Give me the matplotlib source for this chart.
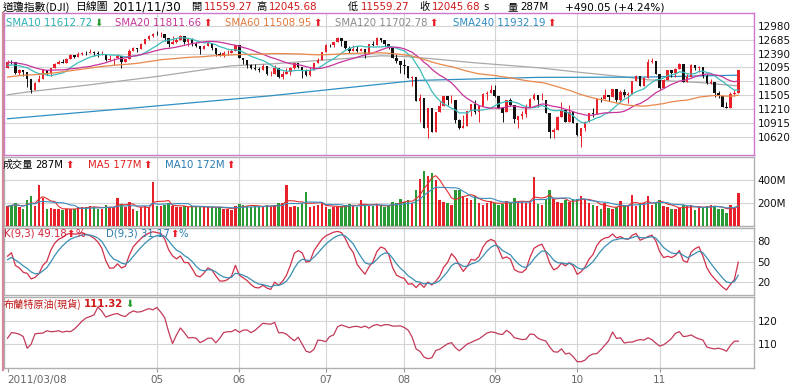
import numpy as np
import pandas as pd
import matplotlib
matplotlib.use("Agg")
import matplotlib.pyplot as plt
from matplotlib.lines import Line2D

W, H = 800, 387
CJK = ['Noto Sans CJK TC', 'DejaVu Sans']
LAT = ['DejaVu Sans', 'Noto Sans CJK TC']
plt.rcParams['font.family'] = LAT

# ------------------------------------------------------------------
# Data: DJI daily, 2011/03/08 - 2011/11/30
# ------------------------------------------------------------------
# closes before 03/08 (only used for the moving averages)
prev_close = [
    11372, 11370, 11410, 11428, 11476, 11457, 11499, 11491, 11478, 11533,
    11559, 11573, 11555, 11575, 11585, 11569, 11578,
    11671, 11691, 11722, 11697, 11675, 11637, 11672, 11755, 11732, 11787,
    11837, 11825, 11823, 11871, 11980, 11978, 12019, 12023, 11823, 11891,
    12040, 12041, 12062, 12092, 12161, 12233, 12239, 12229, 12273, 12268,
    12226, 12288, 12318, 12391, 12212, 12106, 12068, 12130, 12226,
    12058, 12066, 12258, 12170, 12090,
]

opens = [
    # Mar
    12090, 12214, 12211, 11985, 12042, 11990, 11852, 11615, 11777, 11860,
    12034, 11957, 12088, 12171, 12220, 12197, 12281, 12350,
    # Apr
    12320, 12377, 12398, 12394, 12424, 12409, 12380, 12380, 12264, 12269,
    12286, 12340, 12202, 12268, 12453, 12505, 12479, 12595, 12690, 12763,
    # May
    12810, 12807, 12804, 12723, 12584, 12638, 12684, 12760, 12629, 12695,
    12595, 12547, 12478, 12560, 12604, 12511, 12381, 12355, 12394, 12402, 12442,
    # Jun
    12569, 12290, 12246, 12150, 12090, 12070, 12049, 12124, 11952, 11953,
    12076, 11897, 11962, 12004, 12081, 12190, 12109, 12050, 11934, 12043,
    12188, 12262,
    # Jul
    12414, 12580, 12569, 12626, 12718, 12655, 12505, 12447, 12492, 12437,
    12479, 12385, 12587, 12572, 12723, 12680, 12592, 12500, 12302, 12239,
    # Aug
    12144, 12130, 11866, 11894, 11384, 11441, 10810, 11237, 10719, 11143,
    11269, 11480, 11405, 11408, 10985, 10818, 10855, 11176, 11319, 11149,
    11285, 11537, 11560,
    # Sep
    11613, 11492, 11240, 11140, 11414, 11294, 10990, 11061, 11104, 11247,
    11433, 11508, 11401, 11407, 11124, 10733, 10771, 11045, 11190, 10939, 11153,
    # Oct
    10912, 10650, 10802, 10936, 11123, 11104, 11431, 11416, 11518, 11478,
    11644, 11397, 11577, 11504, 11542, 11808, 11911, 11706, 11870, 12208, 12223,
    # Nov
    11955, 11659, 11836, 12042, 11983, 12068, 12166, 11781, 11894, 12152,
    12078, 12095, 11905, 11770, 11795, 11548, 11492, 11256, 11232, 11524, 11559.27,
]

highs = [
    12259, 12250, 12212, 12070, 12043, 11990, 11860, 11790, 11933, 12056,
    12040, 12092, 12188, 12262, 12266, 12290, 12384, 12355,
    12420, 12419, 12450, 12477, 12445, 12450, 12450, 12380, 12350, 12300,
    12390, 12342, 12283, 12488, 12520, 12505, 12620, 12700, 12780, 12830,
    12876, 12840, 12815, 12730, 12760, 12720, 12775, 12760, 12710, 12710,
    12640, 12547, 12580, 12650, 12604, 12511, 12425, 12440, 12460, 12480, 12580,
    12570, 12300, 12246, 12175, 12160, 12095, 12160, 12124, 12020, 12140,
    12076, 12010, 12080, 12100, 12200, 12190, 12109, 12060, 12100, 12200,
    12300, 12420,
    12600, 12600, 12640, 12750, 12718, 12655, 12560, 12580, 12550, 12500,
    12479, 12590, 12650, 12750, 12724, 12680, 12592, 12500, 12380, 12240,
    12285, 12130, 11905, 11894, 11530, 11441, 11240, 11237, 11150, 11376,
    11485, 11480, 11510, 11408, 11000, 11080, 11177, 11327, 11410, 11285,
    11550, 11600, 11717,
    11717, 11492, 11240, 11415, 11455, 11294, 11070, 11170, 11322, 11440,
    11545, 11508, 11560, 11409, 11124, 10810, 11060, 11355, 11190, 11290, 11153,
    10912, 10812, 10958, 11130, 11232, 11433, 11460, 11628, 11520, 11644,
    11644, 11620, 11640, 11580, 11809, 11935, 11911, 11900, 12284, 12301, 12223,
    11955, 11840, 12050, 12044, 12080, 12190, 12166, 11950, 12177, 12152,
    12124, 12095, 11950, 11850, 11795, 11600, 11492, 11370, 11580, 11620, 12045.68,
]

lows = [
    12090, 12170, 11965, 11935, 11920, 11687, 11555, 11615, 11777, 11860,
    11945, 11920, 12082, 12170, 12195, 12180, 12280, 12300,
    12320, 12363, 12350, 12394, 12340, 12325, 12350, 12225, 12240, 12150,
    12286, 12093, 12202, 12268, 12453, 12420, 12479, 12591, 12680, 12750,
    12780, 12750, 12665, 12529, 12584, 12620, 12684, 12591, 12560, 12560,
    12520, 12390, 12478, 12550, 12470, 12331, 12340, 12310, 12355, 12402, 12442,
    12286, 12170, 12080, 12070, 12050, 11990, 12040, 11930, 11920, 11953,
    11875, 11860, 11962, 11940, 12070, 12085, 11875, 11920, 11920, 12040,
    12180, 12262,
    12414, 12530, 12530, 12626, 12560, 12480, 12400, 12447, 12420, 12437,
    12304, 12385, 12560, 12572, 12640, 12560, 12490, 12290, 12200, 11980,
    11967, 11864, 11700, 11384, 10930, 10810, 10604, 10720, 10719, 11143,
    11269, 11308, 11340, 10914, 10800, 10817, 10855, 11060, 11110, 10930,
    11285, 11407, 11560,
    11470, 11240, 10932, 11140, 11270, 10926, 10810, 11000, 11050, 11247,
    11400, 11260, 11395, 11120, 10597, 10600, 10771, 11045, 10935, 10939, 10910,
    10650, 10404, 10739, 10936, 11040, 11104, 11360, 11416, 11390, 11478,
    11360, 11344, 11470, 11350, 11542, 11808, 11700, 11706, 11870, 12200, 11950,
    11637, 11659, 11836, 11892, 11900, 12068, 11780, 11781, 11894, 12040,
    11990, 11870, 11741, 11748, 11470, 11450, 11250, 11231, 11232, 11484, 11559.27,
]

closes = [
    12214, 12213, 11985, 12044, 11993, 11855, 11613, 11775, 11858, 12036,
    11959, 12086, 12170, 12221, 12198, 12280, 12350, 12320,
    12377, 12400, 12394, 12426, 12409, 12380, 12381, 12263, 12270, 12285,
    12342, 12202, 12266, 12453, 12506, 12479, 12595, 12690, 12763, 12811,
    12808, 12807, 12724, 12584, 12638, 12685, 12761, 12630, 12696, 12596,
    12548, 12480, 12560, 12606, 12512, 12381, 12356, 12395, 12403, 12441, 12570,
    12290, 12248, 12151, 12090, 12071, 12049, 12124, 11952, 11953, 12076,
    11897, 11962, 12004, 12081, 12191, 12110, 12050, 11934, 12043, 12188,
    12262, 12414,
    12582, 12570, 12626, 12719, 12657, 12505, 12447, 12492, 12437, 12480,
    12385, 12587, 12572, 12724, 12681, 12592, 12501, 12302, 12240, 12143,
    12132, 11866, 11896, 11384, 11445, 10810, 11240, 10720, 11144, 11270,
    11483, 11406, 11411, 10991, 10818, 10855, 11177, 11321, 11150, 11285,
    11540, 11560, 11614,
    11494, 11240, 11139, 11415, 11296, 10993, 11062, 11106, 11247, 11433,
    11510, 11402, 11409, 11125, 10734, 10772, 11044, 11191, 10938, 11154, 10913,
    10655, 10809, 10940, 11124, 11103, 11433, 11417, 11519, 11478, 11644,
    11397, 11577, 11505, 11541, 11809, 11913, 11706, 11869, 12209, 12231, 11955,
    11658, 11836, 12044, 11983, 12069, 12170, 11781, 11894, 12153, 12079,
    12096, 11906, 11771, 11796, 11548, 11494, 11258, 11231, 11523, 11556, 12045.68,
]

# volume, millions
volume = [
    170, 185, 195, 160, 150, 228, 262, 175, 356, 242, 150, 157, 150, 145, 140, 150, 145, 150,
    165, 160, 165, 170, 165, 150, 145, 180, 165, 160, 242, 185, 160, 210, 150, 130, 160, 175, 165, 380,
    175, 170, 180, 195, 170, 160, 165, 175, 160, 170, 165, 165, 160, 165, 160, 155, 165, 150, 145, 140, 175,
    190, 180, 175, 165, 170, 175, 160, 185, 160, 180, 195, 200, 350, 165, 170, 160, 195, 290, 165, 175, 180, 200,
    165, 150, 160, 170, 175, 185, 190, 170, 165, 228, 180, 170, 175, 190, 170, 165, 175, 210, 200, 237,
    210, 220, 200, 308, 405, 476, 433, 461, 393, 228, 205, 200, 185, 313, 313, 256, 242, 228, 256, 200, 185, 195, 215,
    200, 185, 190, 215, 200, 240, 210, 205, 200, 210, 422, 190, 185, 235, 313, 236, 210, 200, 220, 205, 230,
    230, 260, 225, 200, 185, 175, 143, 200, 157, 143, 166, 214, 177, 177, 271, 171, 177, 200, 256, 177, 200,
    228, 171, 166, 143, 143, 157, 185, 171, 177, 134, 166, 165, 175, 180, 170, 145, 145, 108, 185, 157, 287,
]

# Brent crude spot
brent = [
    112.6, 115.0, 114.8, 114.3, 113.3, 108.3, 110.0, 114.5, 114.7, 114.8,
    115.8, 115.4, 115.5, 115.8, 115.2, 115.6, 115.4, 116.5,
    118.2, 120.0, 121.3, 121.9, 122.6, 126.0, 124.2, 121.7, 122.3, 122.9,
    123.2, 122.3, 121.9, 123.4, 124.3, 123.8, 124.0, 124.7, 125.3, 124.8,
    125.8, 123.8, 121.4, 115.4, 110.3, 114.0, 117.0, 115.0, 112.7, 112.9,
    112.6, 110.7, 111.5, 112.6, 112.6, 110.6, 112.5, 115.0, 115.4, 115.4, 116.3,
    115.1, 116.1, 116.1, 115.0, 116.0, 117.5, 119.0, 118.8, 118.6, 119.4,
    114.9, 115.0, 114.3, 112.8, 111.5, 113.0, 110.0, 107.0, 106.5, 107.8,
    111.8, 111.6,
    111.1, 113.3, 114.0, 117.5, 118.3, 117.7, 117.1, 117.6, 117.7, 117.2,
    117.8, 116.9, 118.0, 118.5, 117.9, 118.4, 118.4, 117.8, 117.8, 117.9,
    117.2, 116.0, 113.0, 108.0, 106.9, 104.5, 103.8, 104.2, 107.3, 107.9,
    109.0, 110.2, 110.7, 108.5, 107.2, 108.6, 110.1, 110.8, 111.6, 112.3,
    113.5, 114.8, 115.3,
    115.1, 114.4, 114.2, 116.0, 114.8, 112.8, 112.4, 112.0, 112.2, 114.4,
    114.2, 112.6, 111.9, 111.4, 108.8, 106.8, 106.6, 108.0, 105.8, 106.2, 104.6,
    102.5, 102.5, 103.2, 105.0, 105.8, 106.0, 107.6, 109.5, 111.5, 115.3,
    112.5, 112.8, 110.5, 110.9, 110.9, 111.6, 112.0, 111.8, 112.8, 112.0, 110.5,
    109.2, 109.8, 111.0, 112.5, 114.7, 115.4, 113.3, 113.5, 114.0, 113.0,
    112.3, 111.8, 108.8, 108.3, 108.0, 108.3, 107.8, 107.0, 109.5, 111.3, 111.32,
]

# long averages (trading-day index, value)
sma120_day = [0, 6, 21, 38, 57, 67, 84, 95, 101, 109, 118, 135, 146, 156, 163, 176, 186]
sma120_val = [11516, 11586, 11728, 11904, 12131, 12170, 12273, 12343, 12328, 12273,
              12201, 12090, 11989, 11904, 11834, 11777, 11703]
sma240_day = [0, 34, 67, 104, 135, 161, 186]
sma240_val = [11007, 11250, 11495, 11820, 11885, 11890, 11932]

month_day = [38, 59, 81, 101, 124, 145, 166]
month_lbl = ['05', '06', '07', '08', '09', '10', '11']

# ------------------------------------------------------------------
o = np.array(opens, float)
h = np.array(highs, float)
l = np.array(lows, float)
c = np.array(closes, float)
v = np.array(volume, float)
x = np.arange(len(c))

allc = pd.Series(prev_close + closes, dtype=float)
n0 = len(prev_close)
sma10 = allc.rolling(10).mean().values[n0:]
sma20 = allc.rolling(20).mean().values[n0:]
sma60 = allc.rolling(60).mean().values[n0:]

vs = pd.Series(v)
vma5 = vs.rolling(5, min_periods=1).mean().values
vma10 = vs.rolling(10, min_periods=1).mean().values

# KD(9,3)
lo9 = pd.Series(l).rolling(9, min_periods=1).min().values
hi9 = pd.Series(h).rolling(9, min_periods=1).max().values
rsv = (c - lo9) / (hi9 - lo9) * 100
K, D = [], []
k, d = 50.0, 50.0
for r in rsv:
    k = k * 2 / 3 + r / 3
    d = d * 2 / 3 + k / 3
    K.append(k)
    D.append(d)

up = c >= o
RED = '#e8202a'
GREEN = '#2a9a34'

# ------------------------------------------------------------------
fig = plt.figure(figsize=(W / 100, H / 100), dpi=100)
fig.patch.set_facecolor('white')


def box(x0, y0, x1, y1):
    return [x0 / W, 1 - y1 / H, (x1 - x0) / W, (y1 - y0) / H]


ax1 = fig.add_axes(box(4, 13, 754, 155))
ax2 = fig.add_axes(box(4, 157, 754, 226))
ax3 = fig.add_axes(box(4, 228, 754, 295))
ax4 = fig.add_axes(box(4, 297, 754, 368))

for ax in (ax1, ax2, ax3, ax4):
    ax.set_xlim(-0.9, 190)
    ax.yaxis.tick_right()
    ax.tick_params(axis='y', length=0, pad=2.5, labelsize=7.5, labelcolor='#111111')
    ax.grid(axis='y', color='#d4d4d4', lw=0.8)
    for md in month_day:
        ax.axvline(md, color='#d4d4d4', lw=0.8, zorder=0)
    ax.set_axisbelow(True)
    for s in ax.spines.values():
        s.set_color('#b0b0b0')
        s.set_linewidth(1.0)
    if ax is not ax4:
        ax.set_xticks([])

for s in ax1.spines.values():
    s.set_color('#cc77cc')

# main candles
ax1.set_ylim(10238, 13251)
ax1.set_yticks(np.arange(10620, 12981, 295))
ccol = np.where(up, RED, '#111111')
ax1.vlines(x, l, h, colors=ccol, lw=0.7, zorder=3)
body = np.maximum(np.abs(c - o), 8)
ax1.bar(x, body, bottom=np.minimum(o, c), width=0.62, color=ccol, lw=0, zorder=3)
ax1.plot(x, sma10, color='#3cbcbc', lw=0.9, zorder=4)
ax1.plot(x, sma20, color='#c8349c', lw=0.9, zorder=4)
ax1.plot(x, sma60, color='#e8884a', lw=0.9, zorder=4)
ax1.plot(sma120_day, sma120_val, color='#a8a8a8', lw=0.9, zorder=2)
ax1.plot(sma240_day, sma240_val, color='#2f8fc4', lw=0.9, zorder=2)

# volume
ax2.set_ylim(0, 595)
ax2.set_yticks([200, 400])
ax2.set_yticklabels(['200M', '400M'])
ax2.bar(x, v, width=0.62, color=np.where(up, RED, GREEN), lw=0, zorder=3)
ax2.plot(x, vma5, color='#e03030', lw=0.8, zorder=4)
ax2.plot(x, vma10, color='#3a8fc0', lw=0.8, zorder=4)

# KD
ax3.set_ylim(1, 99)
ax3.set_yticks([20, 50, 80])
ax3.plot(x, K, color='#d0304a', lw=0.9)
ax3.plot(x, D, color='#3a8fb4', lw=0.9)

# Brent
ax4.set_ylim(99.8, 130.3)
ax4.set_yticks([110, 120])
ax4.plot(x, brent, color='#c23a5a', lw=0.9)
ax4.set_xticks([0] + month_day)
ax4.set_xticklabels(['2011/03/08'] + month_lbl)
ax4.tick_params(axis='x', length=3, color='#999999', labelsize=7.5,
                labelcolor='#666666', pad=2)
ax4.get_xticklabels()[0].set_ha('left')

# left pink edge
fig.add_artist(Line2D([2.5 / W, 2.5 / W], [1 - 13 / H, 1 - 370 / H],
                      color='#d08a9a', lw=1.6))

# ------------------------------------------------------------------
r = fig.canvas.get_renderer()


def put(x0, y0, parts, size=7.3, gap=2):
    xx = x0
    for s, col, fam, kw in parts:
        t = fig.text(xx / W, 1 - y0 / H, s, color=col, fontsize=size,
                     family=fam, va='center', ha='left', **kw)
        bb = t.get_window_extent(renderer=r)
        xx = bb.x1 + gap
    return xx


UPA, DNA = '\u2b06', '\u2b07'
N = {}
B = {'fontweight': 'bold'}
HRED = '#d01818'

# header
put(3, 7, [('道瓊指數(DJI)', 'black', CJK, N)], size=7.8)
put(75, 7, [('日線圖', 'black', CJK, N)], size=7.8)
put(112, 7, [('2011/11/30', 'black', LAT, N)], size=8.6)
put(191, 7, [('開', 'black', CJK, N), ('11559.27', HRED, LAT, N)], size=7.4, gap=3)
put(256, 7, [('高', 'black', CJK, N), ('12045.68', HRED, LAT, N)], size=7.4, gap=3)
put(348, 7, [('低', 'black', CJK, N), ('11559.27', HRED, LAT, N)], size=7.4, gap=3)
put(419, 7, [('收', 'black', CJK, N), ('12045.68', HRED, LAT, N),
             ('s', 'black', LAT, N)], size=7.4, gap=3)
put(508, 7, [('量', 'black', CJK, N), ('287M', 'black', LAT, N)], size=7.4, gap=2)
put(565, 7, [('+490.05 (+4.24%)', 'black', LAT, N)], size=7.6)

# SMA legend
put(6, 23, [('SMA10 11612.72', '#2ab0b0', LAT, N), (DNA, GREEN, LAT, N)])
put(115, 23, [('SMA20 11811.66', '#c8349c', LAT, N), (UPA, RED, LAT, N)])
put(225, 23, [('SMA60 11508.95', '#e0783a', LAT, N), (UPA, RED, LAT, N)])
put(335, 23, [('SMA120 11702.78', '#8a8a8a', LAT, N), (UPA, RED, LAT, N)])
put(453, 23, [('SMA240 11932.19', '#2a8ac0', LAT, N), (UPA, RED, LAT, N)])

# volume legend
put(3, 165, [('成交量', 'black', CJK, N), ('287M', 'black', LAT, N), (UPA, RED, LAT, N)])
put(88, 165, [('MA5 177M', '#e02020', LAT, N), (UPA, RED, LAT, N)])
put(165, 165, [('MA10 172M', '#2a7ab0', LAT, N), (UPA, RED, LAT, N)])

# KD legend
put(4, 234, [('K(9,3) 49.18', '#d0203a', LAT, N), (UPA, RED, LAT, N), ('%', '#d0203a', LAT, N)], gap=0)
put(106, 234, [('D(9,3) 31.17', '#2a7ab0', LAT, N), (UPA, RED, LAT, N), ('%', '#2a7ab0', LAT, N)], gap=0)

# Brent legend
put(4, 304, [('布蘭特原油(現貨)', '#c01818', CJK, N), ('111.32', HRED, LAT, B),
             (DNA, GREEN, LAT, N)], gap=2)

fig.savefig('out.png', dpi=100, facecolor='white')
